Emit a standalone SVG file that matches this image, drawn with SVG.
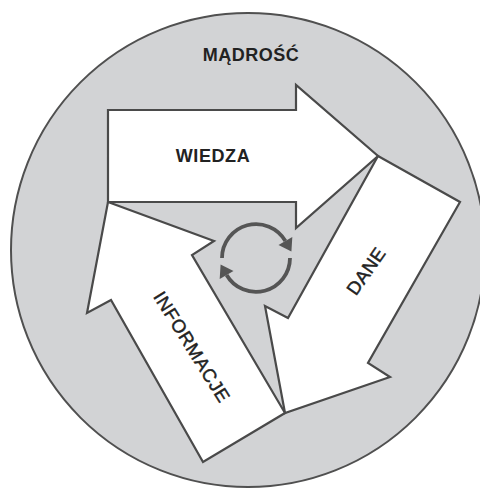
<svg xmlns="http://www.w3.org/2000/svg" width="480" height="488" viewBox="0 0 480 488">
<style>
.bg{fill:#d2d3d5;stroke:#505050;stroke-width:2}
.arrow{fill:#ffffff;stroke:#4a4a4a;stroke-width:2.2;stroke-linejoin:miter}
.lbl{font-family:"Liberation Sans",Arial,sans-serif;fill:#222;text-anchor:middle}
.b{font-weight:bold}
.m{stroke:#222;stroke-width:0.45}
.cyc{fill:none;stroke:#555;stroke-width:3.8}
.cyh{fill:#555}
</style>
<rect width="480" height="488" fill="#ffffff"/>
<g id="madrosc">
<circle class="bg" cx="248" cy="250" r="237"/>
<text class="lbl b" x="251" y="61" font-size="18" letter-spacing="0.5">MĄDROŚĆ</text>
</g>
<g id="wiedza">
<polygon class="arrow" points="108,110 296,110 296,85 378,156 296,228 296,202 108,202"/>
<text class="lbl b" x="213" y="162" font-size="18" letter-spacing="0.6">WIEDZA</text>
</g>
<g id="informacje">
<polygon class="arrow" points="108,202 214,241 192,255 285,413 203,462 111,300 87,313"/>
<text class="lbl m" transform="translate(192,347) rotate(58)" y="6.5" font-size="18.5" letter-spacing="0.7">INFORMACJE</text>
</g>
<g id="dane">
<polygon class="arrow" points="378,156 460,202 368,363 390,377 285,413 265,306 288,318"/>
<text class="lbl m" transform="translate(366,271) rotate(-55)" y="6.5" font-size="18.5" letter-spacing="0.5">DANE</text>
</g>
<g id="connectors">
<path class="cyc" d="M222,258 A34,34 0 0 1 285.4,241"/>
<polygon class="cyh" points="292.3,237 278.5,245 291.4,251.4"/>
<path class="cyc" d="M290,258 A34,34 0 0 1 226.6,275"/>
<polygon class="cyh" points="219.7,279 233.5,271 220.6,264.6"/>
</g>
</svg>
